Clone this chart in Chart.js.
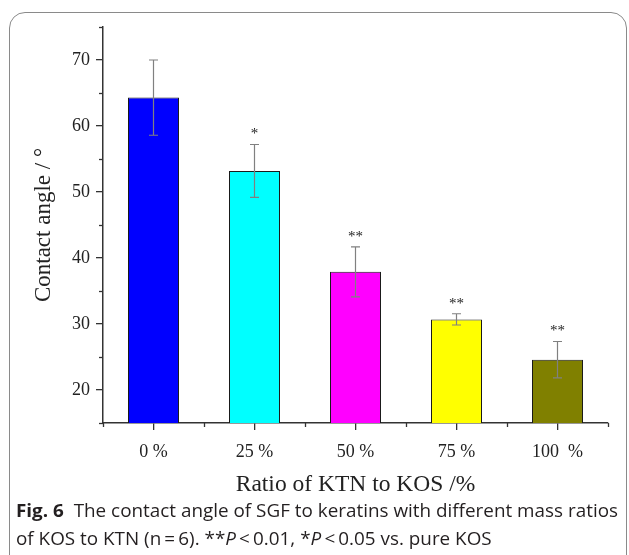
<!DOCTYPE html>
<html><head><meta charset="utf-8">
<script src="https://cdn.jsdelivr.net/npm/chart.js@4"></script>
<style>
html,body{margin:0;padding:0;background:#fff;width:629px;height:555px;overflow:hidden;position:relative}
#frame{position:absolute;left:9px;top:12px;width:618px;height:580px;border:1.5px solid #8a8a8a;border-radius:16px;box-sizing:border-box}
#wrap{position:absolute;left:0;top:0;width:629px;height:500px}
.cap{position:absolute;left:16px;font-family:"Open Sans","Noto Sans",sans-serif;font-size:18.5px;line-height:22px;color:#231f20;white-space:nowrap;transform-origin:0 50%}
.cap b{font-weight:700}
</style></head><body>
<div id="frame"></div>
<div id="wrap"><canvas id="c" width="629" height="500"></canvas></div>
<div class="cap" id="cap1" style="top:499px"><b>Fig. 6</b>&nbsp; The contact angle of SGF to keratins with different mass ratios</div>
<div class="cap" id="cap2" style="top:527px">of KOS to KTN (n&#8201;=&#8201;6). **<i>P</i>&#8201;&lt;&#8201;0.01, *<i>P</i>&#8201;&lt;&#8201;0.05 vs. pure KOS</div>
<script>
const categories = ['0 %', '25 %', '50 %', '75 %', '100  %'];
const contactAngle = [64.3, 53.2, 37.9, 30.7, 24.6];
const errorSD = [5.7, 4.0, 3.8, 0.85, 2.75];
const significance = ['', '*', '**', '**', '**'];
const barColors = ['#0000ff', '#00ffff', '#ff00ff', '#ffff00', '#808000'];
const yMin = 15, yMax = 75, yStep = 5;

// fit caption line 1 width
(function(){
  const c1 = document.getElementById('cap1');
  const w = c1.getBoundingClientRect().width;
  const target = 602;
  const s = target / w;
  c1.style.transform = 'scaleX(' + s + ')';
  document.getElementById('cap2').style.transform = 'scaleX(' + s + ')';
})();

const serif = '"Liberation Serif","Times New Roman",serif';
const axisColor = '#333333';

const extras = {
  id: 'extras',
  afterDatasetsDraw(chart) {
    const ctx = chart.ctx;
    const xs = chart.scales.x, ys = chart.scales.y;
    const meta = chart.getDatasetMeta(0);
    ctx.save();
    ctx.strokeStyle = '#808080';
    ctx.lineWidth = 1.2;
    meta.data.forEach((bar, i) => {
      const x = bar.x;
      const yt = ys.getPixelForValue(contactAngle[i] + errorSD[i]);
      const yb = ys.getPixelForValue(contactAngle[i] - errorSD[i]);
      ctx.beginPath();
      ctx.moveTo(x, yt); ctx.lineTo(x, yb);
      ctx.moveTo(x - 4.5, yt); ctx.lineTo(x + 4.5, yt);
      ctx.moveTo(x - 4.5, yb); ctx.lineTo(x + 4.5, yb);
      ctx.stroke();
      if (significance[i]) {
        ctx.fillStyle = '#222';
        ctx.font = '15px ' + serif;
        ctx.textAlign = 'center';
        ctx.textBaseline = 'alphabetic';
        ctx.fillText(significance[i], x, yt - 6);
      }
    });
    ctx.strokeStyle = axisColor;
    ctx.lineWidth = 1.3;
    const left = chart.chartArea.left, bottom = chart.chartArea.bottom;
    for (let v = yMin; v <= yMax; v += yStep) {
      if (v % 10 === 0) continue;
      const y = Math.round(ys.getPixelForValue(v)) + 0.5;
      ctx.beginPath(); ctx.moveTo(left, y); ctx.lineTo(left - 4, y); ctx.stroke();
    }
    for (let k = 0; k <= categories.length; k++) {
      const x = Math.round(xs.getPixelForValue(k - 0.5)) + 0.5;
      ctx.beginPath(); ctx.moveTo(x, bottom); ctx.lineTo(x, bottom + 4); ctx.stroke();
    }
    ctx.restore();
  }
};

new Chart(document.getElementById('c'), {
  type: 'bar',
  data: {
    labels: categories,
    datasets: [{
      data: contactAngle,
      backgroundColor: barColors,
      borderColor: '#1a1a1a',
      borderWidth: 1,
      borderSkipped: false,
      categoryPercentage: 1,
      barPercentage: 0.505
    }]
  },
  options: {
    responsive: false,
    animation: false,
    devicePixelRatio: 1,
    layout: { padding: { left: 0, right: 21, top: 27, bottom: 0 } },
    plugins: { legend: { display: false }, tooltip: { enabled: false } },
    scales: {
      x: {
        offset: true,
        afterFit(s) { s.height = 77; },
        grid: { offset: false, drawOnChartArea: false, drawTicks: true, tickLength: 7, color: axisColor, lineWidth: 1.3 },
        border: { display: true, color: axisColor, width: 1.5 },
        ticks: { color: '#222', font: { family: serif, size: 18 }, padding: 11, maxRotation: 0, autoSkip: false },
        title: { display: true, text: 'Ratio of KTN to KOS /%', color: '#222', font: { family: serif, size: 23.5 }, padding: { top: 0, bottom: 1 } }
      },
      y: {
        min: yMin, max: yMax,
        afterFit(s) { s.width = 103; },
        grid: { drawOnChartArea: false, drawTicks: true, tickLength: 7, lineWidth: 1.3,
                color: (c) => (c.tick && c.tick.value % 10 === 0) ? axisColor : 'rgba(0,0,0,0)' },
        border: { display: true, color: axisColor, width: 1.5 },
        ticks: { stepSize: yStep, autoSkip: false, color: '#222', font: { family: serif, size: 18 }, padding: 6,
                 callback: (v) => (v % 10 === 0 ? v : '') },
        title: { display: true, text: 'Contact angle / °', color: '#222', font: { family: serif, size: 23 }, padding: { top: 30, bottom: 0 } }
      }
    }
  },
  plugins: [extras]
});
</script>
</body></html>
